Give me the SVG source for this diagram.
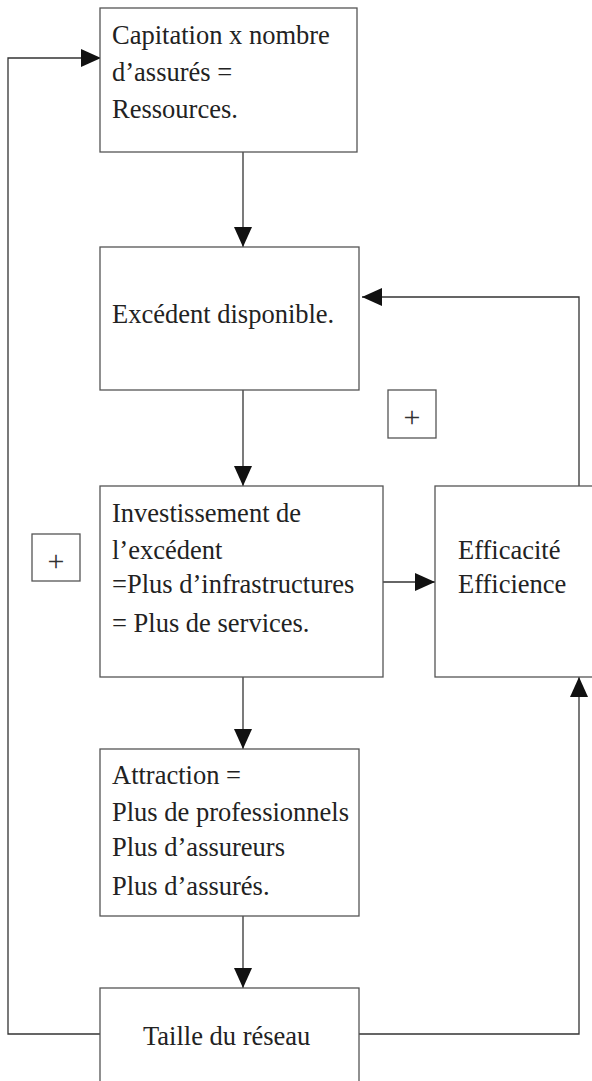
<svg xmlns="http://www.w3.org/2000/svg" width="592" height="1081" viewBox="0 0 592 1081">
<style>
.box{fill:#fff;stroke:#555;stroke-width:1.3}
.t{font-family:"Liberation Serif","Times New Roman",serif;font-size:26.5px;fill:#222}
.p{font-family:"Liberation Serif","Times New Roman",serif;font-size:30px;fill:#333;text-anchor:middle}
.c{fill:none;stroke:#333;stroke-width:1.3}
</style>
<defs>
<marker id="ah" viewBox="0 0 20 18" refX="20" refY="9" markerWidth="20" markerHeight="18" markerUnits="userSpaceOnUse" orient="auto">
<path d="M0,0 L20,9 L0,18 Z" fill="#111"/>
</marker>
</defs>
<rect width="592" height="1081" fill="#fff"/>
<g id="connectors">
<path class="c" d="M243,152 V247" marker-end="url(#ah)"/>
<path class="c" d="M243,390 V486" marker-end="url(#ah)"/>
<path class="c" d="M243,677 V749" marker-end="url(#ah)"/>
<path class="c" d="M243,916 V988" marker-end="url(#ah)"/>
<path class="c" d="M367,582 H435" marker-end="url(#ah)"/>
<path class="c" d="M579,486 V297 H362" marker-end="url(#ah)"/>
<path class="c" d="M359,1034 H579 V677" marker-end="url(#ah)"/>
<path class="c" d="M100,1034 H8 V58 H101" marker-end="url(#ah)"/>
</g>
<g id="n1">
<rect class="box" x="100" y="8" width="257" height="144"/>
<text class="t" x="112" y="44">Capitation x nombre</text>
<text class="t" x="112" y="81">d’assurés =</text>
<text class="t" x="112" y="118">Ressources.</text>
</g>
<g id="n2">
<rect class="box" x="100" y="247" width="259" height="143"/>
<text class="t" x="112" y="323">Excédent disponible.</text>
</g>
<g id="n3">
<rect class="box" x="100" y="486" width="283" height="191"/>
<text class="t" x="112" y="522">Investissement de</text>
<text class="t" x="112" y="559">l’excédent</text>
<text class="t" x="112" y="593">=Plus d’infrastructures</text>
<text class="t" x="112" y="632">= Plus de services.</text>
</g>
<g id="n4">
<rect class="box" x="435" y="486" width="170" height="191"/>
<text class="t" x="458" y="559">Efficacité</text>
<text class="t" x="458" y="593">Efficience</text>
</g>
<g id="n5">
<rect class="box" x="100" y="749" width="259" height="167"/>
<text class="t" x="112" y="784">Attraction =</text>
<text class="t" x="112" y="821">Plus de professionnels</text>
<text class="t" x="112" y="856">Plus d’assureurs</text>
<text class="t" x="112" y="895">Plus d’assurés.</text>
</g>
<g id="n6">
<rect class="box" x="100" y="988" width="259" height="110"/>
<text class="t" x="143" y="1045">Taille du réseau</text>
</g>
<g id="plus1">
<rect class="box" x="388" y="390" width="48" height="48"/>
<text class="p" x="412" y="427">+</text>
</g>
<g id="plus2">
<rect class="box" x="32" y="534" width="48" height="47"/>
<text class="p" x="56" y="571">+</text>
</g>
</svg>
